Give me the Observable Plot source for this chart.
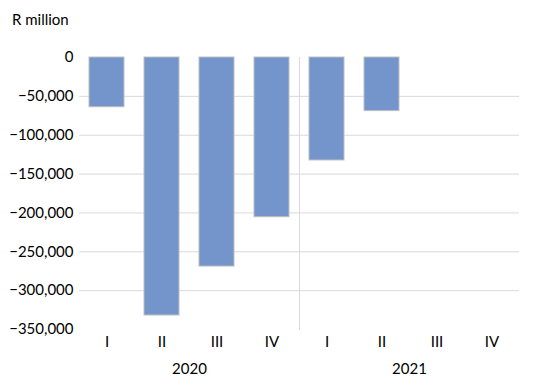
<!DOCTYPE html>
<html>
<head>
<meta charset="utf-8">
<script src="https://cdn.jsdelivr.net/npm/d3@7"></script>
<script src="https://cdn.jsdelivr.net/npm/@observablehq/plot@0.6"></script>
<style>
  html, body { margin: 0; padding: 0; background: #fff; }
  #chart { position: relative; width: 546px; height: 392px; }
  #unit { position: absolute; left: 12px; top: 10px; font: 15px Lato, "Open Sans", sans-serif; color: #000; }
</style>
</head>
<body>
<div id="chart"><div id="unit">R million</div></div>
<script>
const years = ["2020", "2021"];
const quarters = ["I", "II", "III", "IV"];
const values2020 = [-64000, -332000, -269000, -205500];
const values2021 = [-132500, -69000, null, null];
const yTicks = [0, -50000, -100000, -150000, -200000, -250000, -300000, -350000];
const gridValues = [-50000, -100000, -150000, -200000, -250000, -300000];

const data = [];
[values2020, values2021].forEach((vals, yi) => {
  vals.forEach((v, qi) => {
    if (v != null) data.push({year: years[yi], quarter: quarters[qi], value: v});
  });
});

const plot = Plot.plot({
  width: 546,
  height: 392,
  marginLeft: 78,
  marginRight: 27,
  marginTop: 57,
  marginBottom: 63,
  style: {fontFamily: "Lato, 'Open Sans', sans-serif", fontSize: "15px", color: "#000", background: "#fff"},
  fx: {domain: years, padding: 0, axis: null},
  x: {domain: quarters, paddingInner: 0.37, paddingOuter: 0.185, tickSize: 0, tickPadding: 7, label: null},
  y: {domain: [-350000, 0], ticks: yTicks, tickSize: 0, tickPadding: 6, label: null,
      tickFormat: d => d === 0 ? "0" : d3.format(",")(d)},
  marks: [
    Plot.ruleY(gridValues, {stroke: "#d9d9d9", strokeWidth: 1}),
    Plot.frame({anchor: "left", stroke: "#d9d9d9", fx: ["2021"]}),
    Plot.barY(data, {fx: "year", x: "quarter", y: "value", fill: "#7395cc", stroke: "#bfbfbf", strokeWidth: 1}),
    Plot.text(years, {fx: d => d, text: d => d, frameAnchor: "bottom", dy: 44, fontSize: 15, fill: "#000"})
  ]
});
document.getElementById("chart").appendChild(plot);
</script>
</body>
</html>
